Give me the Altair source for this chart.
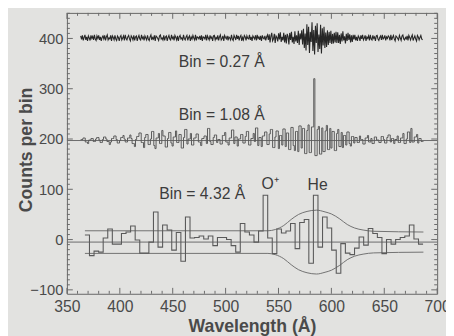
import altair as alt
import pandas as pd

# ---------------- data ----------------
# Top trace: Bin = 0.27 A (sampled), deviations from its 401-count offset
top_start, top_step, top_offset = 363.0, 0.81, 401
top_dev = [
    4,-3,5,-5,1,6,-4,2,-6,4,0,-5,5,-1,3,-4,6,-2,-5,4,
    -1,5,-4,2,-6,1,4,-2,5,-5,2,6,-4,0,-2,5,-6,4,1,-4,
    5,-2,-5,4,1,-6,2,5,-4,0,4,-5,6,-1,-4,2,5,-2,-6,4,
    1,-4,5,-5,2,4,-6,1,5,-2,-4,6,-1,2,-5,4,0,-4,5,-2,
    -5,2,6,-4,1,-2,5,-6,4,2,-1,-5,4,6,-2,0,-4,5,-5,2,
    4,-6,1,5,-2,-4,6,-1,2,-5,5,1,-4,4,-6,2,5,-2,0,-5,
    6,-1,-4,2,5,-5,1,4,-6,2,-2,5,0,-4,6,-5,2,1,-2,4,
    -4,5,-6,2,1,-2,6,-5,4,0,-4,5,-1,2,-6,4,5,-4,1,-2,
    5,-5,2,6,-4,-1,4,-6,5,1,-2,4,-5,2,0,-4,6,-2,-5,5,
    1,-4,6,-2,4,-5,2,5,-6,1,-4,5,2,-5,4,-1,-2,6,-4,2,
    -6,4,1,-2,5,-5,6,-1,2,-4,4,-6,5,0,-2,4,-5,2,6,-4,
    7,-9,3,10,-6,-2,8,-10,4,1,-7,9,-3,11,-8,2,-5,10,-9,6,
    -11,8,3,-13,10,-4,12,-9,2,-12,13,-7,5,-10,14,-14,9,-3,15,-13,
    18,-20,9,-25,27,-14,22,-30,12,-8,31,-26,16,-33,24,-10,29,-28,7,-22,
    26,-31,19,-15,22,-20,11,-18,15,-14,12,-10,14,-12,8,-11,10,-9,12,-10,
    11,-10,6,-12,9,-7,13,-5,3,-11,8,-6,10,-4,7,-9,5,-8,6,-3,
    6,-5,2,-6,4,1,-6,5,-2,6,-4,0,5,-6,2,-1,4,-5,6,-2,
    -4,5,-1,2,-6,4,5,-2,-5,1,4,-4,6,-2,0,5,-5,2,-1,4,
    2,-5,6,-4,1,5,-2,-6,4,2,-1,-4,5,0,-5,4,6,-2,-4,1,
    -2,4,-5,5,1,-4,2,6,-5,0,4,-2,-6,5,2,-4,1,5,-2,-4,
]

# Middle trace: Bin = 1.08 A, deviations from its 197-count offset
mid_start, mid_step, mid_offset = 363.0, 1.08, 197
mid_dev = [
    2,2,5,5,-3,-3,-6,1,1,4,4,-2,-2,3,6,6,1,-4,-4,2,
    7,7,3,-2,-2,-8,-3,4,4,9,9,2,-5,-5,0,6,6,10,3,-3,
    -3,5,5,11,4,-6,-6,-12,2,8,8,15,15,-4,-4,-14,6,12,12,-8,
    -8,3,18,18,-10,-16,5,5,14,-6,-6,20,9,9,-13,-13,4,16,16,-5,
    -11,7,7,19,-4,-4,12,12,-15,-15,6,22,22,-7,3,3,14,-9,-9,5,
    5,13,13,-3,-3,-10,4,4,9,9,-6,24,24,-2,-8,-8,6,11,11,-4,
    2,2,-7,-7,10,10,16,-3,-3,-9,5,5,21,21,-6,7,7,-11,3,3,
    12,12,-5,-5,8,18,18,-9,-9,4,4,14,-2,25,25,-10,6,6,-12,9,
    9,17,17,-8,-8,13,22,22,-14,-14,7,19,19,-16,10,10,-9,23,23,-12,
    15,15,-18,-18,26,26,-10,-20,18,18,-22,29,29,-15,24,24,-26,-26,20,31,
    -24,-24,27,27,123,-30,-30,22,28,-27,-27,25,-22,-22,19,30,-18,-18,24,-15,
    18,18,-20,-20,14,22,-12,-12,16,-14,10,10,-9,17,17,-6,-11,8,8,-5,
    6,6,-4,-4,9,2,2,-7,-7,5,5,10,-3,-3,4,-6,-6,7,7,1,
    1,-4,-4,8,8,2,-5,-5,6,11,11,-3,4,4,-6,2,2,9,-4,-4,
    5,5,14,-6,-6,3,17,17,-4,24,-3,-3,7,7,12,-5,4,4,-2,-2,
]

# Bottom trace: Bin = 4.32 A, deviations from its -5-count offset
bot_start, bot_step, bot_offset = 367.0, 4.32, -5
bot_dev = [
    14,-27,-18,-20,8,26,-4,-4,17,20,
    32,4,-22,-22,0,60,-10,34,24,-16,
    19,-38,50,8,9,12,6,12,-7,9,
    9,5,-7,-20,37,20,14,0,22,93,
    8,-23,26,18,22,37,-13,39,45,-42,
    93,-10,50,28,-16,-62,-3,-22,-25,-12,
    10,-6,27,17,9,-23,5,-4,5,9,
    12,34,6,-4,
]

# 1-sigma envelope half-width around the bottom trace
env_wl = [367, 540, 547, 555, 562, 569, 577, 586, 594, 600, 608, 615, 622, 630, 640, 687]
env_amp = [22.5, 22.5, 25, 33, 45, 55, 61, 63.5, 60, 56, 46, 35, 28, 24, 21.5, 20]

baselines = [mid_offset, bot_offset]

labels_txt = ["Bin = 0.27 Å", "Bin = 1.08 Å", "Bin = 4.32 Å"]
labels_x = [455.8, 455.8, 437.3]
labels_y = [353, 248, 90]

lines_txt = ["O⁺", "He"]
lines_x = [542, 587]
lines_y = [111, 109]

x_ticks = [350, 400, 450, 500, 550, 600, 650, 700]
y_ticks = [-100, 0, 100, 200, 300, 400]
x_minor = [v for v in range(350, 701, 10) if v % 50 != 0]
y_minor = [v for v in range(-100, 451, 10) if v % 100 != 0]

# ---------------- tables ----------------
top_df = pd.DataFrame({
    "x": [top_start + top_step * i for i in range(len(top_dev))],
    "y": [top_offset + d for d in top_dev],
})

def step_table(start, step, offset, dev):
    xs = [start + step * i for i in range(len(dev))] + [start + step * len(dev)]
    ys = [offset + d for d in dev] + [offset + dev[-1]]
    return pd.DataFrame({"x": xs, "y": ys})

mid_df = step_table(mid_start, mid_step, mid_offset, mid_dev)
bot_df = step_table(bot_start, bot_step, bot_offset, bot_dev)
env_df = pd.DataFrame({
    "x": env_wl + env_wl,
    "y": [bot_offset + a for a in env_amp] + [bot_offset - a for a in env_amp],
    "side": ["up"] * len(env_wl) + ["lo"] * len(env_wl),
})
base_df = pd.DataFrame({"y": baselines})
lab_df = pd.DataFrame({"x": labels_x, "y": labels_y, "t": labels_txt})
ln_df = pd.DataFrame({"x": lines_x, "y": lines_y, "t": lines_txt})
xmaj = pd.DataFrame({"x": x_ticks})
xmin = pd.DataFrame({"x": x_minor})
ymaj = pd.DataFrame({"y": y_ticks})
ymin = pd.DataFrame({"y": y_minor})

# ---------------- encodings ----------------
W, H = 377, 286
FONT = "Liberation Sans"
TXT = "#4a4a4a"
xs = alt.Scale(domain=[350, 700], nice=False, zero=False)
ys = alt.Scale(domain=[-107.8, 450.8], nice=False, zero=False)
xaxis = alt.Axis(values=x_ticks, title="Wavelength (Å)", ticks=False, domain=False, grid=False,
                 labelFontSize=16, labelPadding=5, labelFont=FONT, labelColor=TXT,
                 titleFont=FONT, titleFontSize=18, titleFontWeight="bold", titleColor=TXT,
                 titleBaseline="top", titleY=24, labelFlush=False)
yaxis = alt.Axis(values=y_ticks, title="Counts per bin", ticks=False, domain=False, grid=False,
                 labelFontSize=15, labelPadding=4, labelFont=FONT, labelColor=TXT,
                 titleFont=FONT, titleFontSize=18, titleFontWeight="bold", titleColor=TXT,
                 titleAngle=-90, titleBaseline="top", titleX=-50, titleY=H / 2 - 4,
                 labelFlush=False)
X = alt.X("x:Q", scale=xs, axis=xaxis)
Y = alt.Y("y:Q", scale=ys, axis=yaxis)

LINE = "#5a5a5a"

top = alt.Chart(top_df).mark_line(color="#262626", strokeWidth=1.1).encode(x=X, y=Y)
mid = alt.Chart(mid_df).mark_line(color=LINE, strokeWidth=1, interpolate="step-after").encode(x=X, y=Y)
bot = alt.Chart(bot_df).mark_line(color=LINE, strokeWidth=1.1, interpolate="step-after").encode(x=X, y=Y)
env = alt.Chart(env_df).mark_line(color="#707070", strokeWidth=1, interpolate="monotone").encode(
    x=X, y=Y, detail="side:N")
base = alt.Chart(base_df).mark_rule(color="#6a6a6a", strokeWidth=1).encode(y=Y)

txt1 = alt.Chart(lab_df).mark_text(align="left", baseline="middle", font=FONT, fontSize=16,
                                   color="#3c3c3c").encode(x=X, y=Y, text="t:N")
txt2 = alt.Chart(ln_df).mark_text(align="center", baseline="middle", font=FONT, fontSize=16,
                                  color="#3c3c3c").encode(x=X, y=Y, text="t:N")

TK = "#6a6a6a"
def xt(df, y0, y1):
    return alt.Chart(df).mark_rule(color=TK, strokeWidth=1).encode(x=X, y=alt.value(y0), y2=alt.value(y1))
def yt(df, x0, x1):
    return alt.Chart(df).mark_rule(color=TK, strokeWidth=1).encode(y=Y, x=alt.value(x0), x2=alt.value(x1))

ticks = [
    xt(xmaj, H, H - 6), xt(xmin, H, H - 3), xt(xmaj, 0, 6), xt(xmin, 0, 3),
    yt(ymaj, 0, 6), yt(ymin, 0, 3), yt(ymaj, W, W - 6), yt(ymin, W, W - 3),
]

chart = alt.layer(base, env, bot, mid, top, txt1, txt2, *ticks).properties(
    width=W, height=H,
    autosize=alt.AutoSizeParams(type="none"),
    padding={"left": 60, "top": 2, "right": 9, "bottom": 40},
    background="#e2e2e0",
).configure_view(stroke="#666666", strokeWidth=1)

chart.save("out.html", embed_options={"renderer": "svg", "actions": False})
